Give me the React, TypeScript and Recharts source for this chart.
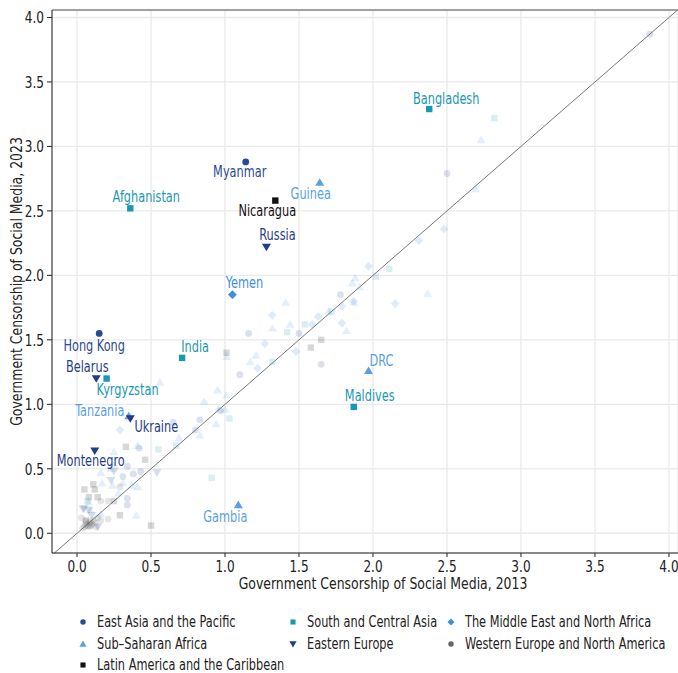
import React from "react";
import {
  ScatterChart, Scatter, XAxis, YAxis, CartesianGrid, ReferenceLine, Label,
} from "recharts";

const FONT = "'DejaVu Sans Condensed', 'DejaVu Sans', sans-serif";
const SQUEEZE = 0.84; // no condensed face like the original, so narrow the text

interface Pt { x: number; y: number; name?: string; }

const xTicks = [0, 0.5, 1, 1.5, 2, 2.5, 3, 3.5, 4];
const yTicks = [0, 0.5, 1, 1.5, 2, 2.5, 3, 3.5, 4];
const X_MIN = -0.169, X_MAX = 4.061, Y_MIN = -0.153, Y_MAX = 4.058;

const eastAsia: Pt[] = [
  { x: 1.14, y: 2.88, name: "Myanmar" }, { x: 0.15, y: 1.55, name: "Hong Kong" },
  { x: 3.87, y: 3.87 }, { x: 2.5, y: 2.79 }, { x: 1.78, y: 1.85 }, { x: 1.16, y: 1.55 },
  { x: 1.5, y: 1.55 }, { x: 1.65, y: 1.31 }, { x: 1.1, y: 1.23 }, { x: 0.97, y: 0.95 },
  { x: 0.83, y: 0.88 }, { x: 0.65, y: 0.86 }, { x: 0.8, y: 0.8 }, { x: 0.42, y: 0.66 },
  { x: 0.34, y: 0.52 }, { x: 0.43, y: 0.48 }, { x: 0.38, y: 0.46 }, { x: 0.31, y: 0.44 },
  { x: 0.34, y: 0.27 }, { x: 0.34, y: 0.22 },
];
const subSaharan: Pt[] = [
  { x: 1.64, y: 2.72, name: "Guinea" }, { x: 0.35, y: 0.91, name: "Tanzania" },
  { x: 1.97, y: 1.26, name: "DRC" }, { x: 1.09, y: 0.22, name: "Gambia" },
  { x: 2.73, y: 3.05 }, { x: 2.69, y: 2.67 }, { x: 1.88, y: 1.98 }, { x: 1.86, y: 1.94 },
  { x: 1.91, y: 1.91 }, { x: 2.37, y: 1.86 }, { x: 1.87, y: 1.79 }, { x: 1.82, y: 1.57 },
  { x: 1.41, y: 1.79 }, { x: 1.44, y: 1.62 }, { x: 1.32, y: 1.59 }, { x: 1.7, y: 1.72 },
  { x: 1.01, y: 1.37 }, { x: 1.21, y: 1.38 }, { x: 1.17, y: 1.33 }, { x: 0.95, y: 1.11 },
  { x: 1.01, y: 1.07 }, { x: 0.56, y: 1.17 }, { x: 0.86, y: 1.02 }, { x: 0.96, y: 0.97 },
  { x: 1.0, y: 0.96 }, { x: 0.94, y: 0.85 }, { x: 0.83, y: 0.76 }, { x: 0.69, y: 0.74 },
  { x: 0.41, y: 0.68 }, { x: 0.25, y: 0.63 }, { x: 0.25, y: 0.53 }, { x: 0.23, y: 0.5 },
  { x: 0.16, y: 0.47 }, { x: 0.17, y: 0.39 }, { x: 0.24, y: 0.37 }, { x: 0.31, y: 0.39 },
  { x: 0.37, y: 0.37 }, { x: 0.41, y: 0.36 }, { x: 0.28, y: 0.31 }, { x: 0.09, y: 0.18 },
  { x: 0.16, y: 0.15 }, { x: 0.4, y: 0.14 }, { x: 0.08, y: 0.24 },
];
const latinAmerica: Pt[] = [
  { x: 1.34, y: 2.58, name: "Nicaragua" },
  { x: 1.01, y: 1.4 }, { x: 1.65, y: 1.5 }, { x: 1.58, y: 1.44 }, { x: 0.33, y: 0.67 },
  { x: 0.46, y: 0.57 }, { x: 0.05, y: 0.34 }, { x: 0.11, y: 0.38 }, { x: 0.12, y: 0.34 },
  { x: 0.14, y: 0.28 }, { x: 0.08, y: 0.28 }, { x: 0.25, y: 0.25 }, { x: 0.29, y: 0.14 },
  { x: 0.5, y: 0.06 }, { x: 0.06, y: 0.1 }, { x: 0.09, y: 0.06 },
];
const southAsia: Pt[] = [
  { x: 2.38, y: 3.29, name: "Bangladesh" }, { x: 0.36, y: 2.52, name: "Afghanistan" },
  { x: 0.71, y: 1.36, name: "India" }, { x: 0.2, y: 1.2, name: "Kyrgyzstan" },
  { x: 1.87, y: 0.98, name: "Maldives" },
  { x: 2.82, y: 3.22 }, { x: 2.11, y: 2.05 }, { x: 2.02, y: 1.99 }, { x: 1.72, y: 1.72 },
  { x: 1.54, y: 1.62 }, { x: 1.42, y: 1.56 }, { x: 1.32, y: 1.33 }, { x: 1.03, y: 0.89 },
  { x: 0.55, y: 0.65 }, { x: 0.67, y: 0.68 }, { x: 0.91, y: 0.43 }, { x: 0.07, y: 0.25 },
];
const easternEurope: Pt[] = [
  { x: 1.28, y: 2.22, name: "Russia" }, { x: 0.13, y: 1.2, name: "Belarus" },
  { x: 0.36, y: 0.89, name: "Ukraine" }, { x: 0.12, y: 0.64, name: "Montenegro" },
  { x: 0.54, y: 0.47 }, { x: 0.25, y: 0.48 }, { x: 0.23, y: 0.41 }, { x: 0.05, y: 0.19 },
  { x: 0.08, y: 0.18 }, { x: 0.1, y: 0.14 }, { x: 0.14, y: 0.05 }, { x: 0.04, y: 0.19 },
];
const middleEast: Pt[] = [
  { x: 1.05, y: 1.85, name: "Yemen" },
  { x: 2.48, y: 2.36 }, { x: 2.31, y: 2.27 }, { x: 1.97, y: 2.07 }, { x: 2.15, y: 1.78 },
  { x: 1.79, y: 1.76 }, { x: 1.87, y: 1.8 }, { x: 1.79, y: 1.63 }, { x: 1.32, y: 1.69 },
  { x: 1.59, y: 1.62 }, { x: 1.63, y: 1.68 }, { x: 1.27, y: 1.47 }, { x: 1.48, y: 1.41 },
  { x: 1.22, y: 1.28 }, { x: 0.29, y: 0.8 },
];
const westernEurope: Pt[] = [
  { x: 0.29, y: 0.36 }, { x: 0.16, y: 0.25 }, { x: 0.21, y: 0.25 }, { x: 0.21, y: 0.11 },
  { x: 0.16, y: 0.1 }, { x: 0.03, y: 0.12 }, { x: 0.13, y: 0.05 }, { x: 0.08, y: 0.08 },
  { x: 0.05, y: 0.05 }, { x: 0.06, y: 0.07 }, { x: 0.07, y: 0.06 }, { x: 0.09, y: 0.09 },
  { x: 0.1, y: 0.07 }, { x: 0.12, y: 0.08 }, { x: 0.04, y: 0.04 }, { x: 0.08, y: 0.05 },
  { x: 0.11, y: 0.1 }, { x: 0.06, y: 0.09 }, { x: 0.14, y: 0.12 },
];

type Kind = "circle" | "square" | "up" | "down" | "diamond";
const regions: { name: string; kind: Kind; color: string; data: Pt[] }[] = [
  { name: "East Asia and the Pacific", kind: "circle", color: "#2b4a94", data: eastAsia },
  { name: "Sub\u2013Saharan Africa", kind: "up", color: "#5b9fe3", data: subSaharan },
  { name: "Latin America and the Caribbean", kind: "square", color: "#111111", data: latinAmerica },
  { name: "South and Central Asia", kind: "square", color: "#1a98b3", data: southAsia },
  { name: "Eastern Europe", kind: "down", color: "#1f3d8a", data: easternEurope },
  { name: "The Middle East and North Africa", kind: "diamond", color: "#3d8fdc", data: middleEast },
  { name: "Western Europe and North America", kind: "circle", color: "#666666", data: westernEurope },
];

// label offsets (px) relative to the marker
const labelOffsets: Record<string, [number, number]> = {
  Bangladesh: [17, -10], Myanmar: [-6, 10], Afghanistan: [16, -12], Guinea: [-9, 11],
  Nicaragua: [-8, 10], Russia: [11, -12], Yemen: [12, -12], "Hong Kong": [-5, 12],
  India: [13, -11], Belarus: [-9, -12], Kyrgyzstan: [21, 11], Tanzania: [-29, -5],
  Ukraine: [26, 8], Montenegro: [-4, 10], DRC: [13, -10], Maldives: [16, -11], Gambia: [-13, 12],
};

function SText({ x, y, rotate = 0, anchor = "middle", size = 15, color = "#222", children }: any) {
  return (
    <text transform={`translate(${x},${y}) rotate(${rotate}) scale(${SQUEEZE},1)`} textAnchor={anchor}
      dominantBaseline="central" style={{ fontSize: size, fill: color, fontFamily: FONT }}>
      {children}
    </text>
  );
}

function Marker({ kind, cx, cy, color, opacity, s = 1 }: { kind: Kind; cx: number; cy: number; color: string; opacity: number; s?: number }) {
  const p = { fill: color, fillOpacity: opacity };
  if (kind === "circle") return <circle cx={cx} cy={cy} r={3.4 * s} {...p} />;
  if (kind === "square") return <rect x={cx - 3.2 * s} y={cy - 3.2 * s} width={6.4 * s} height={6.4 * s} {...p} />;
  if (kind === "up") return <polygon points={`${cx},${cy - 4.3 * s} ${cx + 4.5 * s},${cy + 3.3 * s} ${cx - 4.5 * s},${cy + 3.3 * s}`} {...p} />;
  if (kind === "down") return <polygon points={`${cx},${cy + 4.3 * s} ${cx + 4.5 * s},${cy - 3.3 * s} ${cx - 4.5 * s},${cy - 3.3 * s}`} {...p} />;
  return <polygon points={`${cx},${cy - 4.4 * s} ${cx + 4.4 * s},${cy} ${cx},${cy + 4.4 * s} ${cx - 4.4 * s},${cy}`} {...p} />;
}

const XTick = ({ x, y, payload }: any) => <SText x={x} y={y + 7} size={16}>{payload.value.toFixed(1)}</SText>;
const YTick = ({ x, y, payload }: any) => <SText x={x} y={y} size={16} anchor="end">{payload.value.toFixed(1)}</SText>;

function LegendBox() {
  const cols = [[0, 1, 2], [3, 4], [5, 6]];
  const colX = [76, 286, 444];
  return (
    <div style={{ position: "absolute", left: 0, top: 611, width: 678, fontFamily: FONT, fontSize: 15, color: "#222" }}>
      {cols.map((col, ci) =>
        col.map((ri, k) => {
          const r = regions[ri];
          return (
            <div key={r.name} style={{ position: "absolute", left: colX[ci], top: k * 21.5, display: "flex", alignItems: "center", whiteSpace: "nowrap", height: 22 }}>
              <svg width={14} height={14} style={{ marginRight: 7 }}>
                <Marker kind={r.kind} cx={7} cy={7} color={r.color} opacity={1} s={0.8} />
              </svg>
              <span style={{ display: "inline-block", transform: `scaleX(${SQUEEZE})`, transformOrigin: "left center" }}>{r.name}</span>
            </div>
          );
        })
      )}
    </div>
  );
}

export default function App() {
  return (
    <div style={{ position: "absolute", left: 0, top: 0, width: 678, height: 673, background: "#fff" }}>
      <ScatterChart width={678} height={673} margin={{ top: 10, right: 0, bottom: 0, left: 0 }}>
        <CartesianGrid stroke="#e9e9e9" strokeWidth={1.3} />
        <XAxis
          type="number" dataKey="x" domain={[X_MIN, X_MAX]} ticks={xTicks} allowDataOverflow
          height={120} stroke="#222" tickSize={4} tickMargin={2} tick={<XTick />}
        >
          <Label content={({ viewBox }: any) => (
            <SText x={viewBox.x + viewBox.width / 2 + 18} y={584} size={16.5}>
              Government Censorship of Social Media, 2013
            </SText>
          )} />
        </XAxis>
        <YAxis
          type="number" dataKey="y" domain={[Y_MIN, Y_MAX]} ticks={yTicks} allowDataOverflow
          width={52} stroke="#222" tickSize={5} tickMargin={3} tick={<YTick />}
        >
          <Label content={({ viewBox }: any) => (
            <SText x={17} y={viewBox.y + viewBox.height / 2} rotate={-90} size={16.5}>
              Government Censorship of Social Media, 2023
            </SText>
          )} />
        </YAxis>
        <ReferenceLine y={Y_MAX} stroke="#555" strokeWidth={1.2} />
        <ReferenceLine segment={[{ x: -0.153, y: -0.153 }, { x: 4.058, y: 4.058 }]} stroke="#777" strokeWidth={1} />
        {regions.map((r) => (
          <Scatter
            key={r.name + "-bg"} data={r.data.filter((p) => !p.name)} isAnimationActive={false}
            shape={(props: any) => <Marker kind={r.kind} cx={props.cx} cy={props.cy} color={r.color} opacity={0.17} />}
          />
        ))}
        {regions.map((r) => (
          <Scatter
            key={r.name + "-hl"} data={r.data.filter((p) => p.name)} isAnimationActive={false}
            shape={(props: any) => {
              const name = props.payload.name as string;
              const [dx, dy] = labelOffsets[name] || [0, -12];
              return (
                <g>
                  <Marker kind={r.kind} cx={props.cx} cy={props.cy} color={r.color} opacity={1} />
                  <SText x={props.cx + dx} y={props.cy + dy} color={r.color}>{name}</SText>
                </g>
              );
            }}
          />
        ))}
      </ScatterChart>
      <LegendBox />
    </div>
  );
}
